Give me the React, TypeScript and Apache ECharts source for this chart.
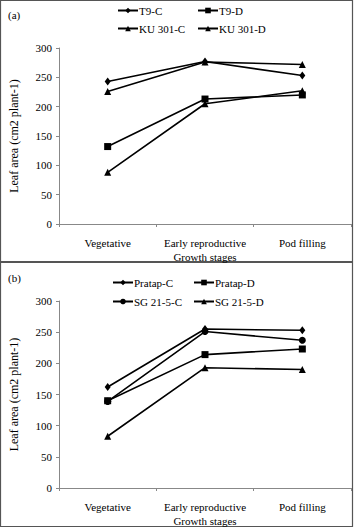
import React, { useEffect, useRef } from "react";
import * as echarts from "echarts";

const stages = ["Vegetative", "Early reproductive", "Pod filling"];
const yTicks = [0, 50, 100, 150, 200, 250, 300];

const namesA = ["T9-C", "T9-D", "KU 301-C", "KU 301-D"];
const t9C = [243, 277, 253];
const t9D = [132, 213, 220];
const ku301C = [226, 276, 272];
const ku301D = [88, 205, 227];

const namesB = ["Pratap-C", "Pratap-D", "SG 21-5-C", "SG 21-5-D"];
const pratapC = [162, 255, 253];
const pratapD = [140, 214, 223];
const sg215C = [139, 251, 237];
const sg215D = [83, 193, 190];

const FONT = "Liberation Serif";

export default function App() {
  const ref = useRef<HTMLDivElement>(null);
  useEffect(() => {
    document.body.style.margin = "0";
    const chart = echarts.init(ref.current!, null, { renderer: "svg" });
    const symbols = ["diamond", "rect", "triangle", "triangle"];
    const symbolsB = ["diamond", "rect", "circle", "triangle"];
    const mk = (name: string, data: number[], sym: string, idx: number) => ({
      type: "line",
      name,
      data,
      xAxisIndex: idx,
      yAxisIndex: idx,
      symbol: sym,
      symbolSize: sym === "diamond" ? [6, 8] : 7,
      lineStyle: { color: "#000", width: 1.6 },
      itemStyle: { color: "#000" },
      animation: false,
    });
    const xAx = (gi: number) => ({
      type: "category",
      gridIndex: gi,
      data: stages,
      boundaryGap: true,
      name: "Growth stages",
      nameLocation: "middle",
      nameGap: 27,
      nameTextStyle: { fontFamily: FONT, fontSize: 11, color: "#000" },
      axisLine: { lineStyle: { color: "#888", width: 1 } },
      axisTick: { show: true, length: 3, lineStyle: { color: "#888" } },
      axisLabel: { fontFamily: FONT, fontSize: 11, color: "#000", margin: 13, interval: 0, hideOverlap: false },
      splitLine: { show: false },
    });
    const yAx = (gi: number) => ({
      type: "value",
      gridIndex: gi,
      min: yTicks[0],
      max: yTicks[yTicks.length - 1],
      interval: 50,
      name: "Leaf area (cm2 plant-1)",
      nameLocation: "middle",
      nameGap: 39,
      nameTextStyle: { fontFamily: FONT, fontSize: 12, color: "#000" },
      axisLine: { show: true, lineStyle: { color: "#888", width: 1 } },
      axisTick: { show: true, length: 3, lineStyle: { color: "#888" } },
      axisLabel: { fontFamily: FONT, fontSize: 11, color: "#000", margin: 7 },
      splitLine: { show: false },
    });
    const legPos = [
      [117, 5],
      [197, 5],
      [117, 23],
      [197, 23],
    ];
    const legPosB = [
      [112, 277],
      [193, 277],
      [112, 296],
      [193, 296],
    ];
    const leg = (name: string, pos: number[]) => ({
      data: [name],
      left: pos[0],
      top: pos[1],
      itemWidth: 20,
      itemHeight: 7,
      padding: 0,
      textStyle: { fontFamily: FONT, fontSize: 11, color: "#000", padding: [0, 0, 0, -4] },
      selectedMode: false,
    });
    chart.setOption({
      animation: false,
      backgroundColor: "#fff",
      textStyle: { fontFamily: FONT },
      grid: [
        { left: 52, right: 4, top: 48, bottom: 305 },
        { left: 52, right: 4, top: 301, bottom: 41 },
      ],
      xAxis: [xAx(0), xAx(1)],
      yAxis: [yAx(0), yAx(1)],
      legend: [
        ...namesA.map((n, i) => leg(n, legPos[i])),
        ...namesB.map((n, i) => leg(n, legPosB[i])),
      ],
      series: [
        mk(namesA[0], t9C, symbols[0], 0),
        mk(namesA[1], t9D, symbols[1], 0),
        mk(namesA[2], ku301C, symbols[2], 0),
        mk(namesA[3], ku301D, symbols[3], 0),
        mk(namesB[0], pratapC, symbolsB[0], 1),
        mk(namesB[1], pratapD, symbolsB[1], 1),
        mk(namesB[2], sg215C, symbolsB[2], 1),
        mk(namesB[3], sg215D, symbolsB[3], 1),
      ],
      graphic: [
        {
          type: "rect",
          shape: { x: 0.5, y: 0.5, width: 352, height: 261 },
          style: { fill: "none", stroke: "#555", lineWidth: 1.2 },
          silent: true,
        },
        {
          type: "rect",
          shape: { x: 0.5, y: 262.5, width: 352, height: 264 },
          style: { fill: "none", stroke: "#555", lineWidth: 1.2 },
          silent: true,
        },
        {
          type: "text",
          left: 8,
          top: 9,
          style: { text: "(a)", fontFamily: FONT, fontSize: 11, fill: "#000" },
        },
        {
          type: "text",
          left: 8,
          top: 272,
          style: { text: "(b)", fontFamily: FONT, fontSize: 11, fill: "#000" },
        },
      ],
    });
    return () => chart.dispose();
  }, []);
  return <div ref={ref} style={{ width: 355, height: 529 }} />;
}
